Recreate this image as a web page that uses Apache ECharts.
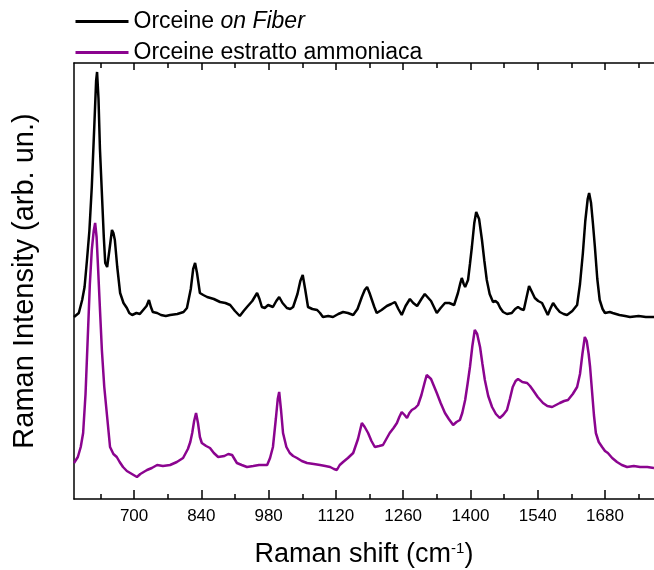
<!DOCTYPE html>
<html>
<head>
<meta charset="utf-8">
<script src="https://cdn.jsdelivr.net/npm/echarts@6/dist/echarts.min.js"></script>
<style>
  html, body { margin: 0; padding: 0; background: #fff; }
  #chart { width: 654px; height: 570px; }
</style>
</head>
<body>
<div id="chart"></div>
<script>
// Raman shift (cm-1) vs intensity (arb. un.)
const fiberName = "Orceine on Fiber";
const extractName = "Orceine estratto ammoniaca";

const fiberData = [
  [575, 182], [585, 186], [592, 199], [597, 212], [602, 239], [607, 268], [612, 312], [617, 370],
  [621, 418], [623, 427], [626, 400], [629, 350], [633, 306], [637, 262], [640, 236], [644, 232],
  [649, 250], [654, 269], [657, 266], [660, 259], [665, 232], [671, 206], [678, 196], [685, 191],
  [690, 186], [696, 184], [705, 186], [712, 185], [719, 189], [726, 193], [731, 199], [735, 192],
  [739, 187], [748, 186], [756, 184], [766, 183], [775, 184], [790, 185], [803, 187], [810, 191],
  [818, 210], [823, 230], [827, 236], [831, 226], [837, 206], [844, 204], [852, 202], [866, 200],
  [879, 197], [890, 196], [900, 194], [910, 188], [920, 183], [928, 188], [935, 192], [946, 198],
  [956, 206], [961, 200], [966, 192], [972, 191], [979, 194], [984, 193], [989, 192], [996, 198],
  [1002, 202], [1009, 196], [1018, 191], [1025, 190], [1031, 192], [1040, 205], [1046, 218],
  [1051, 224], [1056, 210], [1062, 192], [1071, 190], [1081, 189], [1087, 186], [1093, 182],
  [1104, 183], [1114, 182], [1125, 185], [1135, 187], [1145, 186], [1156, 184], [1165, 190],
  [1174, 202], [1180, 209], [1185, 212], [1190, 206], [1195, 199], [1200, 192], [1205, 186],
  [1215, 189], [1226, 193], [1235, 195], [1243, 197], [1250, 190], [1257, 184], [1265, 193],
  [1274, 200], [1281, 196], [1289, 193], [1298, 200], [1305, 205], [1309, 207], [1318, 198],
  [1330, 186], [1338, 191], [1347, 196], [1356, 196], [1366, 194], [1374, 206], [1379, 216],
  [1382, 221], [1386, 215], [1389, 212], [1395, 219], [1399, 235], [1403, 252], [1408, 276],
  [1412, 287], [1414, 288], [1418, 280], [1424, 259], [1429, 238], [1434, 219], [1440, 205],
  [1447, 197], [1452, 198], [1457, 196], [1462, 191], [1468, 187], [1476, 185], [1486, 186],
  [1493, 190], [1499, 192], [1505, 190], [1511, 189], [1516, 200], [1522, 213], [1528, 207],
  [1534, 201], [1541, 198], [1549, 196], [1555, 190], [1561, 184], [1566, 190], [1572, 196],
  [1579, 191], [1586, 187], [1594, 185], [1601, 184], [1612, 188], [1622, 194], [1628, 215],
  [1634, 246], [1639, 278], [1644, 300], [1647, 306], [1651, 296], [1655, 275], [1659, 252],
  [1664, 220], [1669, 199], [1675, 190], [1680, 186], [1690, 187], [1696, 186], [1710, 184],
  [1722, 183], [1732, 182], [1750, 183], [1765, 182], [1782, 182]
];

const extractData = [
  [575, 36], [579, 38], [583, 42], [589, 52], [594, 66], [599, 105], [604, 166], [608, 215],
  [612, 249], [616, 268], [619, 276], [622, 262], [625, 232], [629, 190], [633, 149], [638, 112],
  [644, 82], [650, 52], [657, 45], [664, 42], [670, 37], [677, 32], [685, 28], [692, 26],
  [699, 24], [706, 22], [713, 25], [720, 27], [727, 29], [737, 31], [748, 34], [760, 33],
  [775, 34], [789, 37], [802, 41], [812, 50], [817, 57], [821, 66], [825, 78], [829, 86],
  [833, 76], [837, 62], [841, 56], [850, 53], [858, 51], [866, 46], [875, 42], [888, 43],
  [896, 45], [904, 44], [909, 40], [914, 36], [924, 34], [935, 32], [948, 33], [960, 34],
  [970, 34], [977, 34], [983, 41], [989, 52], [995, 80], [999, 100], [1002, 107], [1006, 88],
  [1010, 66], [1017, 52], [1024, 46], [1031, 43], [1039, 41], [1049, 38], [1060, 36], [1074, 35],
  [1087, 34], [1098, 33], [1108, 32], [1116, 30], [1122, 29], [1128, 34], [1135, 37], [1145, 41],
  [1156, 46], [1166, 60], [1174, 76], [1180, 72], [1187, 66], [1194, 58], [1201, 52], [1210, 53],
  [1218, 54], [1225, 60], [1232, 66], [1240, 71], [1247, 76], [1252, 82], [1257, 87], [1263, 84],
  [1268, 81], [1273, 86], [1278, 89], [1285, 91], [1291, 94], [1298, 104], [1305, 117], [1309, 124],
  [1312, 126], [1318, 120], [1324, 113], [1330, 106], [1338, 96], [1347, 86], [1355, 80],
  [1364, 74], [1371, 77], [1378, 79], [1383, 86], [1389, 99], [1394, 115], [1399, 132], [1404, 153],
  [1409, 169], [1414, 165], [1420, 152], [1425, 135], [1430, 119], [1437, 103], [1445, 92],
  [1453, 85], [1461, 81], [1468, 84], [1476, 89], [1482, 100], [1488, 112], [1494, 118],
  [1499, 120], [1508, 117], [1518, 116], [1524, 113], [1530, 109], [1540, 102], [1551, 96],
  [1560, 93], [1570, 92], [1578, 94], [1586, 96], [1595, 98], [1603, 99], [1613, 105], [1622, 112],
  [1628, 125], [1633, 145], [1638, 162], [1642, 158], [1646, 145], [1649, 132], [1653, 108],
  [1657, 84], [1661, 66], [1667, 57], [1674, 52], [1680, 48], [1686, 46], [1695, 41], [1705, 37],
  [1715, 34], [1726, 32], [1740, 33], [1753, 32], [1768, 32], [1782, 31]
];

const xMin = 575;
const xMax = 1782;
const majorTicks = [700, 840, 980, 1120, 1260, 1400, 1540, 1680];
const minorTicks = [630, 770, 910, 1050, 1190, 1330, 1470, 1610, 1750];

const chart = echarts.init(document.getElementById("chart"), null, { renderer: "canvas" });

const font = "Liberation Sans, Arial, sans-serif";

// one x axis per tick row (bottom/top, major/minor)
const xAxisBase = (position, values, len, showLine, showLabel) => ({
  type: "value",
  position: position,
  min: xMin,
  max: xMax,
  splitLine: { show: false },
  axisLine: { show: showLine, onZero: false, lineStyle: { color: "#000", width: 1.5 } },
  axisTick: {
    show: true,
    inside: true,
    length: len,
    customValues: values,
    lineStyle: { color: "#000", width: 1.5 }
  },
  axisLabel: {
    show: showLabel,
    customValues: values,
    formatter: (v) => String(v),
    margin: 9,
    color: "#000",
    fontSize: 17,
    fontFamily: font
  }
});

const bottomMain = xAxisBase("bottom", majorTicks, 9, true, true);
bottomMain.name = "{a|Raman shift (cm}{s|-1}{a|)}";
bottomMain.nameLocation = "middle";
bottomMain.nameGap = 42;
bottomMain.nameTextStyle = {
  rich: {
    a: { fontSize: 27, fontFamily: font, color: "#000" },
    s: { fontSize: 15, fontFamily: font, color: "#000", verticalAlign: "top", padding: [0, 0, 12, 0] }
  }
};

chart.setOption({
  backgroundColor: "#fff",
  animation: false,
  grid: { left: 74, right: 0, top: 63, bottom: 71, outerBoundsMode: "none" },
  legend: {
    orient: "vertical",
    left: 74,
    top: 10,
    padding: 0,
    itemWidth: 53,
    itemHeight: 20,
    itemGap: 8,
    itemStyle: { opacity: 0 },
    lineStyle: { width: 3 },
    data: [fiberName, extractName],
    formatter: (name) => name === fiberName ? "{n|Orceine }{i|on Fiber}" : "{n|" + name + "}",
    textStyle: {
      rich: {
        n: { fontSize: 23, fontFamily: font, color: "#000", lineHeight: 22 },
        i: { fontSize: 23, fontFamily: font, color: "#000", fontStyle: "italic", lineHeight: 22 }
      }
    }
  },
  xAxis: [
    bottomMain,
    xAxisBase("bottom", minorTicks, 5, false, false),
    xAxisBase("top", majorTicks, 7, true, false),
    xAxisBase("top", minorTicks, 5, false, false)
  ],
  yAxis: {
    type: "value",
    min: 0,
    max: 436,
    name: "Raman Intensity (arb. un.)",
    nameLocation: "middle",
    nameGap: 35,
    nameTextStyle: { fontSize: 29, fontFamily: font, color: "#000" },
    splitLine: { show: false },
    axisTick: { show: false },
    axisLabel: { show: false },
    axisLine: { show: true, lineStyle: { color: "#000", width: 1.5 } }
  },
  series: [
    {
      name: fiberName,
      type: "line",
      xAxisIndex: 0,
      symbol: "none",
      lineStyle: { color: "#000", width: 2.5 },
      itemStyle: { color: "#000" },
      data: fiberData
    },
    {
      name: extractName,
      type: "line",
      xAxisIndex: 0,
      symbol: "none",
      lineStyle: { color: "#8b048f", width: 2.5 },
      itemStyle: { color: "#8b048f" },
      data: extractData
    }
  ]
});
</script>
</body>
</html>
